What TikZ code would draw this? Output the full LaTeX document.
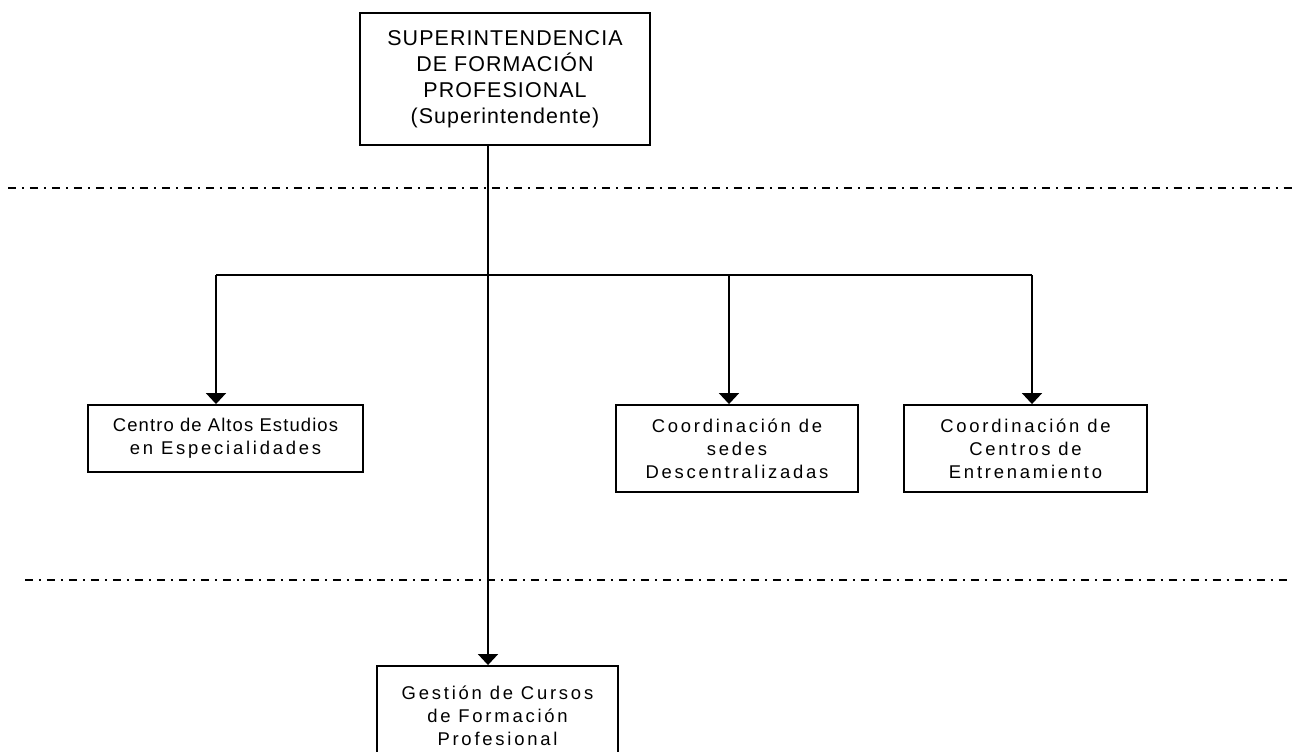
\documentclass[tikz,border=0pt]{standalone}
\usepackage{fontspec}
\setmainfont{Liberation Sans}
\newfontfamily\titfont[LetterSpace=5]{Liberation Sans}
\newfontfamily\cajfont[LetterSpace=15]{Liberation Sans}
\newfontfamily\cajfontb[LetterSpace=6]{Liberation Sans}
\usetikzlibrary{arrows.meta}

\begin{document}
\begin{tikzpicture}[x=0.02cm,y=-0.02cm,
  caja/.style={draw,line width=1.1pt,inner sep=0pt,align=center,font=\cajfont\fontsize{10.5}{13.2}\selectfont},
  flecha/.style={line width=1.1pt,-{Triangle[width=0.4cm,length=0.22cm]}},
  nivel/.style={line width=1pt,dash pattern=on 0.16cm off 0.12cm on 0.04cm off 0.12cm}]
\useasboundingbox (0,0) rectangle (1295,751);

\node [caja,minimum width=5.8cm,minimum height=2.64cm,font=\titfont\fontsize{12.2}{14.7}\selectfont] (sup) at (505,79) {SUPERINTENDENCIA\\DE FORMACIÓN\\PROFESIONAL\\(Superintendente)};

\node [caja,minimum width=5.5cm,minimum height=1.34cm] (ceae) at (225.5,438.5) {{\cajfontb Centro de Altos Estudios}\\en Especialidades};
\node [caja,minimum width=4.84cm,minimum height=1.74cm] (sedes) at (737,448.5) {Coordinación de\\sedes\\Descentralizadas};
\node [caja,minimum width=4.86cm,minimum height=1.74cm] (centros) at (1025.5,448.5) {Coordinación de\\Centros de\\Entrenamiento};
\node [caja,minimum width=4.82cm,minimum height=2.0cm] (gest) at (497.5,716) {Gestión de Cursos\\de Formación\\Profesional};

\draw [nivel] (8,188) -- (1292,188);
\draw [line width=1.6pt] (8,188) -- (16,188);
\draw [nivel] (25,580) -- (1292,580);
\draw [line width=1.6pt] (25,580) -- (33,580);

\coordinate (tronco) at (488,145);
\coordinate (b1) at (216,275);
\coordinate (b2) at (729,275);
\coordinate (b3) at (1032,275);

\draw [flecha] (tronco |- sup.south) -- (tronco |- gest.north);
\draw [line width=1.1pt] (b1) -- (b3);
\draw [flecha] (b1) -- (b1 |- ceae.north);
\draw [flecha] (b2) -- (b2 |- sedes.north);
\draw [flecha] (b3) -- (b3 |- centros.north);
\end{tikzpicture}
\end{document}
